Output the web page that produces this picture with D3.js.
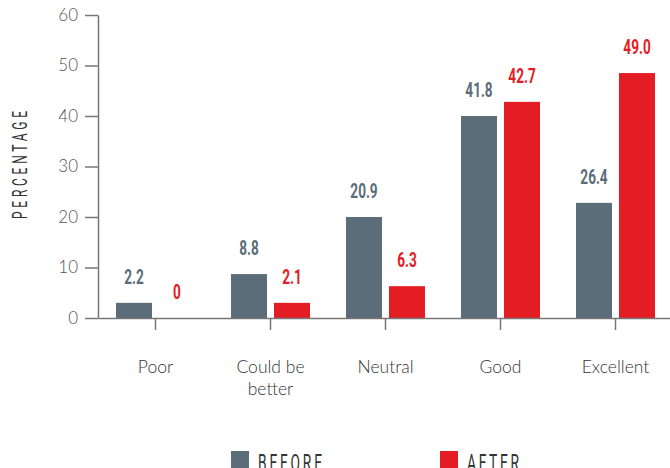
<!DOCTYPE html>
<html lang="en">
<head>
  <meta charset="UTF-8">
  <title>Before / After ratings</title>
  <script src="https://d3js.org/d3.v7.min.js"></script>
  <style>
    body {
      margin: 0;
      background: #fff;
    }
    .tick text {
      font-family: Lato, "Open Sans", sans-serif;
      font-weight: 300;
    }
  </style>
</head>
<body>
  <svg id="chart" width="670" height="468"></svg>

  <script>
const categories = ["Poor", "Could be better", "Neutral", "Good", "Excellent"];
const categoryLines = [["Poor"], ["Could be", "better"], ["Neutral"], ["Good"], ["Excellent"]];
const seriesNames = ["BEFORE", "AFTER"];
// bar heights as drawn in the picture
const beforeValues = [3.0, 8.7, 20.0, 40.0, 22.8];
const afterValues = [0, 3.0, 6.3, 42.8, 48.5];
// value labels as printed above the bars
const beforeLabels = ["2.2", "8.8", "20.9", "41.8", "26.4"];
const afterLabels = ["0", "2.1", "6.3", "42.7", "49.0"];
const yTicks = [0, 10, 20, 30, 40, 50, 60];

const colors = { BEFORE: "#5b6d78", AFTER: "#e41c24" };

const svg = d3.select("#chart");

const x = d3.scaleBand()
  .domain(categories)
  .range([98, 673]);

// two bars, 36px wide with a small gap, centred on each category tick
const sub = d3.scaleBand()
  .domain(seriesNames)
  .range([18, x.bandwidth() - 18])
  .paddingInner(0.163);

const y = d3.scaleLinear()
  .domain([0, 60])
  .range([318, 15]);

// y axis
const yAxis = svg.append("g")
  .attr("transform", "translate(98,0)")
  .call(d3.axisLeft(y).tickValues(yTicks).tickSize(13).tickSizeOuter(0).tickPadding(7));
yAxis.select(".domain").attr("stroke", "#777").attr("stroke-width", 1.5);
yAxis.selectAll(".tick line").attr("stroke", "#777").attr("stroke-width", 1.5);
yAxis.selectAll(".tick text")
  .attr("font-size", "17px")
  .attr("fill", "#555");

// bars
const rows = categories.map((c, i) => ({
  key: c,
  items: [
    { series: "BEFORE", value: beforeValues[i], label: beforeLabels[i] },
    { series: "AFTER", value: afterValues[i], label: afterLabels[i] }
  ]
}));

const groups = svg.append("g")
  .selectAll("g")
  .data(rows)
  .enter()
  .append("g")
  .attr("transform", d => `translate(${x(d.key)},0)`);

groups.selectAll("rect")
  .data(d => d.items)
  .enter()
  .append("rect")
  .attr("x", d => sub(d.series))
  .attr("y", d => y(d.value))
  .attr("width", sub.bandwidth())
  .attr("height", d => y(0) - y(d.value))
  .attr("fill", d => colors[d.series]);

// condensed bold labels: squeeze a normal bold font horizontally
groups.selectAll("text")
  .data(d => d.items)
  .enter()
  .append("text")
  .attr("transform", d => `translate(${sub(d.series) + sub.bandwidth() / 2},${y(d.value) - 19}) scale(0.68,1)`)
  .attr("text-anchor", "middle")
  .attr("font-family", "Roboto, sans-serif")
  .attr("font-weight", "bold")
  .attr("font-size", "20px")
  .attr("fill", d => colors[d.series])
  .text(d => d.label);

// x axis
const xAxis = svg.append("g")
  .attr("transform", "translate(0,318)")
  .call(d3.axisBottom(x).tickSize(12).tickSizeOuter(0).tickFormat(""));
xAxis.select(".domain").attr("stroke", "#777").attr("stroke-width", 1.5);
xAxis.selectAll(".tick line").attr("stroke", "#777").attr("stroke-width", 1.5);

categories.forEach((c, i) => {
  const t = svg.append("text")
    .attr("x", x(c) + x.bandwidth() / 2)
    .attr("y", 373)
    .attr("text-anchor", "middle")
    .attr("font-family", "Lato, 'Open Sans', sans-serif")
    .attr("font-weight", 300)
    .attr("font-size", "17.5px")
    .attr("fill", "#333");
  categoryLines[i].forEach((line, j) => {
    t.append("tspan")
      .attr("x", x(c) + x.bandwidth() / 2)
      .attr("dy", j === 0 ? 0 : 22)
      .text(line);
  });
});

// narrow, letter-spaced caps (y title and legend)
const squeeze = 0.6;

svg.append("text")
  .attr("transform", `translate(27,165) rotate(-90) scale(${squeeze},1)`)
  .attr("text-anchor", "middle")
  .attr("font-family", "Roboto, sans-serif")
  .attr("font-weight", 400)
  .attr("font-size", "20px")
  .attr("textLength", 108 / squeeze)
  .attr("lengthAdjust", "spacing")
  .attr("fill", "#333")
  .text("PERCENTAGE");

// legend
const legendX = [231, 440];
const legendWidths = [64, 52];
seriesNames.forEach((s, i) => {
  svg.append("rect")
    .attr("x", legendX[i])
    .attr("y", 451)
    .attr("width", 18)
    .attr("height", 17)
    .attr("fill", colors[s]);
  svg.append("text")
    .attr("transform", `translate(${legendX[i] + 27},471) scale(${squeeze},1)`)
    .attr("font-family", "Roboto, sans-serif")
    .attr("font-weight", 400)
    .attr("font-size", "23px")
    .attr("textLength", legendWidths[i] / squeeze)
    .attr("lengthAdjust", "spacing")
    .attr("fill", "#333")
    .text(s);
});
  </script>
</body>
</html>
